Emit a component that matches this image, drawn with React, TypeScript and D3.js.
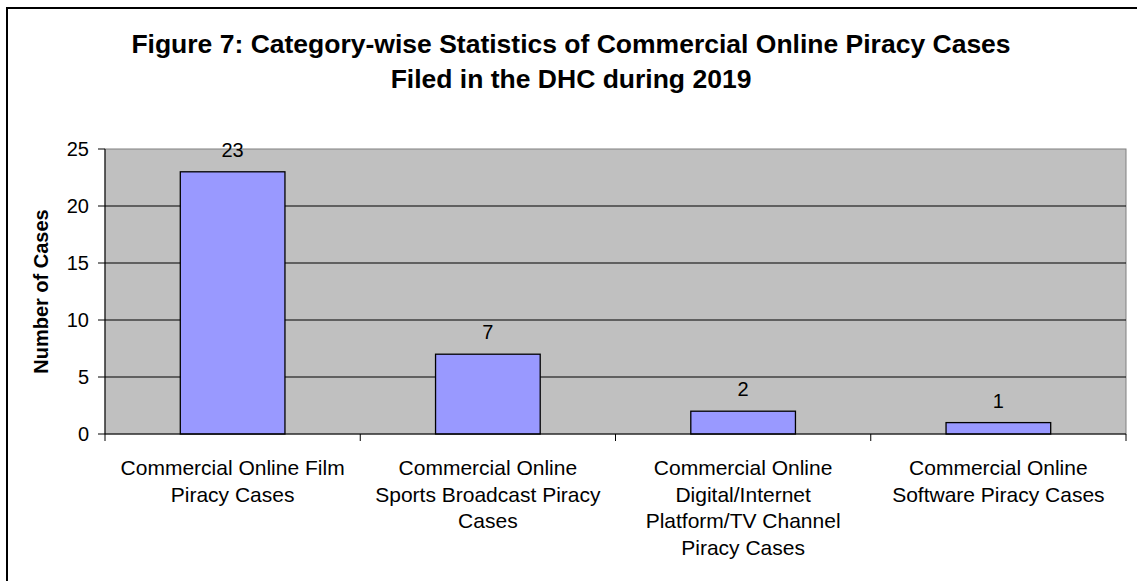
import React from "react";
import * as d3 from "d3";

const titleLines = [
  "Figure 7: Category-wise Statistics of Commercial Online Piracy Cases",
  "Filed in the DHC during 2019",
];
const categories = [
  ["Commercial Online Film", "Piracy Cases"],
  ["Commercial Online", "Sports Broadcast Piracy", "Cases"],
  ["Commercial Online", "Digital/Internet", "Platform/TV Channel", "Piracy Cases"],
  ["Commercial Online", "Software Piracy Cases"],
];
const values = [23, 7, 2, 1];
const yTicks = [0, 5, 10, 15, 20, 25];
const yLabel = "Number of Cases";

const W = 1137;
const H = 581;
const plot = { left: 105, right: 1126, top: 149, bottom: 434 };
const FONT = "'Liberation Sans', Arial, sans-serif";

export default function App() {
  const keys = categories.map((_, i) => String(i));
  const x = d3.scaleBand().domain(keys).range([plot.left, plot.right]).paddingInner(0).paddingOuter(0);
  const y = d3.scaleLinear().domain([0, 25]).range([plot.bottom, plot.top]);
  const bw = x.bandwidth() * 0.41;

  return (
    <svg width={W} height={H} style={{ position: "absolute", left: 0, top: 0, background: "#fff" }} fontFamily={FONT}>
      <rect x={7} y={8} width={W + 20} height={H + 20} fill="#fff" stroke="#000" strokeWidth={2} />
      {titleLines.map((t, i) => (
        <text key={i} x={571} y={53 + i * 35} textAnchor="middle" fontWeight="bold" fontSize={26.5} fill="#000">
          {t}
        </text>
      ))}
      <rect x={plot.left} y={plot.top} width={plot.right - plot.left} height={plot.bottom - plot.top} fill="#C0C0C0" stroke="#808080" strokeWidth={1} />
      {yTicks.filter((t) => t > 0 && t < 25).map((t) => (
        <line key={t} x1={plot.left} x2={plot.right} y1={y(t)} y2={y(t)} stroke="#000" strokeWidth={1} />
      ))}
      {values.map((v, i) => {
        const cx = (x(String(i)) as number) + x.bandwidth() / 2;
        return (
          <g key={i}>
            <rect x={cx - bw / 2} y={y(v)} width={bw} height={y(0) - y(v)} fill="#9999FF" stroke="#000" strokeWidth={1.3} />
            <text x={cx} y={y(v) - 15} textAnchor="middle" fontSize={20} fill="#000">
              {v}
            </text>
          </g>
        );
      })}
      <line x1={plot.left} x2={plot.left} y1={plot.top} y2={plot.bottom} stroke="#000" strokeWidth={1} />
      <line x1={plot.left} x2={plot.right} y1={plot.bottom} y2={plot.bottom} stroke="#000" strokeWidth={1} />
      {yTicks.map((t) => (
        <g key={t}>
          <line x1={plot.left - 7} x2={plot.left} y1={y(t)} y2={y(t)} stroke="#000" strokeWidth={1} />
          <text x={plot.left - 16} y={y(t) + 7} textAnchor="end" fontSize={20} fill="#000">
            {t}
          </text>
        </g>
      ))}
      {keys.concat(["4"]).map((k, i) => {
        const xx = plot.left + i * x.step();
        return <line key={k} x1={xx} x2={xx} y1={plot.bottom} y2={plot.bottom + 7} stroke="#000" strokeWidth={1} />;
      })}
      {categories.map((lines, i) => {
        const cx = (x(String(i)) as number) + x.bandwidth() / 2;
        return (
          <text key={i} textAnchor="middle" fontSize={21} fill="#000">
            {lines.map((l, j) => (
              <tspan key={j} x={cx} y={475 + j * 26.5}>
                {l}
              </tspan>
            ))}
          </text>
        );
      })}
      <text transform={`translate(48, ${(plot.top + plot.bottom) / 2}) rotate(-90)`} textAnchor="middle" fontWeight="bold" fontSize={20} fill="#000">
        {yLabel}
      </text>
    </svg>
  );
}
